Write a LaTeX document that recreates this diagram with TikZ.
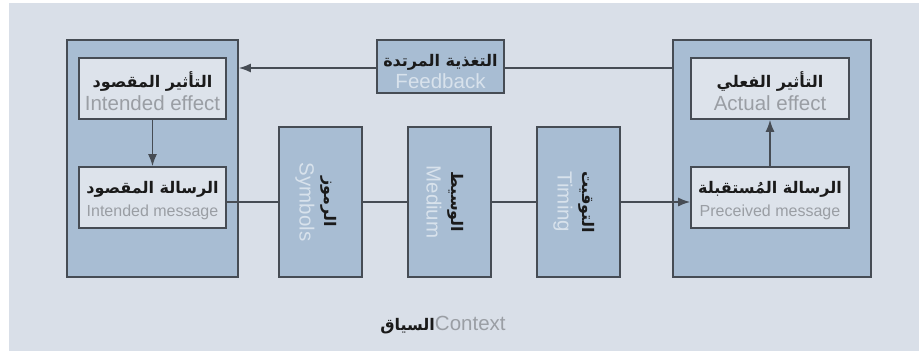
\documentclass[tikz,border=0pt]{standalone}
\usepackage{fontspec}
\setmainfont{Liberation Sans}
\newfontfamily\arabicfont[Script=Arabic]{DejaVu Sans}
\TeXXeTstate=1
\usetikzlibrary{arrows.meta}
\definecolor{pagebg}{HTML}{D9DFE8}
\definecolor{panel}{HTML}{A8BDD3}
\definecolor{card}{HTML}{DDE3EB}
\definecolor{edge}{HTML}{464C54}
\definecolor{mutedtext}{HTML}{9A9EA4}
\definecolor{lighttext}{HTML}{D8E2EC}
\definecolor{inktext}{HTML}{1A1A1A}
\newcommand{\artext}[1]{{\arabicfont\bfseries\color{inktext}\fontsize{16}{23}\selectfont\beginR #1\endR}}
\newcommand{\entext}[2]{{\color{#1}\fontsize{20.5}{23}\selectfont #2}}
\newcommand{\ensmall}[1]{{\color{mutedtext}\fontsize{16}{23}\selectfont #1}}
\tikzset{
  panelbox/.style={draw=edge, line width=1.7pt, fill=panel, inner sep=0pt},
  cardbox/.style={draw=edge, line width=1.7pt, fill=card, inner sep=0pt,
                   minimum width=147pt, minimum height=61pt},
  cardtext/.style={align=center, inner sep=0pt, font=\fontsize{16}{23}\selectfont},
  stagebox/.style={draw=edge, line width=1.7pt, fill=panel, inner sep=0pt,
                   minimum width=83pt, minimum height=150pt},
  stagetext/.style={rotate=-90, align=center, inner sep=0pt, font=\fontsize{16}{25}\selectfont},
  link/.style={draw=edge, line width=1.4pt},
  flow/.style={link, -{Latex[length=12pt,width=9pt]}},
}
\begin{document}
\begin{tikzpicture}[x=1pt,y=-1pt]
  % page and background
  \fill[white] (0,0) rectangle (919,351);
  \fill[pagebg] (9,3) rectangle (919,351);
  \useasboundingbox (0,0) rectangle (919,351);

  % sender and receiver panels
  \node[panelbox, minimum width=171pt, minimum height=237pt] (sender) at (152.5,158.5) {};
  \node[panelbox, minimum width=198pt, minimum height=237pt] (receiver) at (772,158.5) {};

  % sender cards
  \node[cardbox] (intEffect) at (152.5,88.5) {};
  \node[cardtext] (intEffectText) at (152.5,91)
    {\artext{التأثير المقصود}\\\entext{mutedtext}{Intended effect}};
  \node[cardbox] (intMsg) at (152.5,197.5) {};
  \node[cardtext] (intMsgText) at (152.5,200.5)
    {\artext{الرسالة المقصود}\\\ensmall{Intended message}};

  % receiver cards
  \node[cardbox, minimum width=158pt] (actEffect) at (770,88.5) {};
  \node[cardtext] (actEffectText) at (770,91)
    {\artext{التأثير الفعلي}\\\entext{mutedtext}{Actual effect}};
  \node[cardbox, minimum width=158pt] (recMsg) at (770,197.5) {};
  \node[cardtext] (recMsgText) at (770,200.5)
    {\artext{الرسالة المُستقبلة}\\\ensmall{Preceived message}};

  % feedback box
  \node[panelbox, minimum width=127pt, minimum height=53pt] (feedback) at (440.5,66.5) {};
  \node[cardtext, font=\fontsize{16}{22}\selectfont] (feedbackText) at (440.5,72)
    {\artext{التغذية المرتدة}\\\entext{lighttext}{Feedback}};

  % channel stages
  \node[stagebox] (symbols) at (320.5,202) {};
  \node[stagebox] (medium) at (449.5,202) {};
  \node[stagebox] (timing) at (578.5,202) {};
  \node[stagetext] (symbolsText) at (316,202)
    {\artext{الرموز}\\\entext{lighttext}{Symbols}};
  \node[stagetext] (mediumText) at (445,202)
    {\artext{الوسيط}\\\entext{lighttext}{Medium}};
  \node[stagetext] (timingText) at (574,202)
    {\artext{التوقيت}\\\entext{lighttext}{Timing}};

  % context caption
  \node[inner sep=0pt] (context) at (443,325)
    {\artext{السياق}\entext{mutedtext}{Context}};

  % connectors
  \draw[flow] (intEffect.south) -- (intMsg.north);
  \draw[flow] (recMsg.north) -- (actEffect.south);
  \draw[link] (intMsg.east |- symbols.west) -- (symbols.west);
  \draw[link] (symbols.east) -- (medium.west);
  \draw[link] (medium.east) -- (timing.west);
  \draw[flow] (timing.east) -- (recMsg.west |- timing.east);
  \draw[link] (receiver.west |- 0,68) -- (feedback.east |- 0,68);
  \draw[flow] (feedback.west |- 0,68) -- (sender.east |- 0,68);
\end{tikzpicture}
\end{document}
